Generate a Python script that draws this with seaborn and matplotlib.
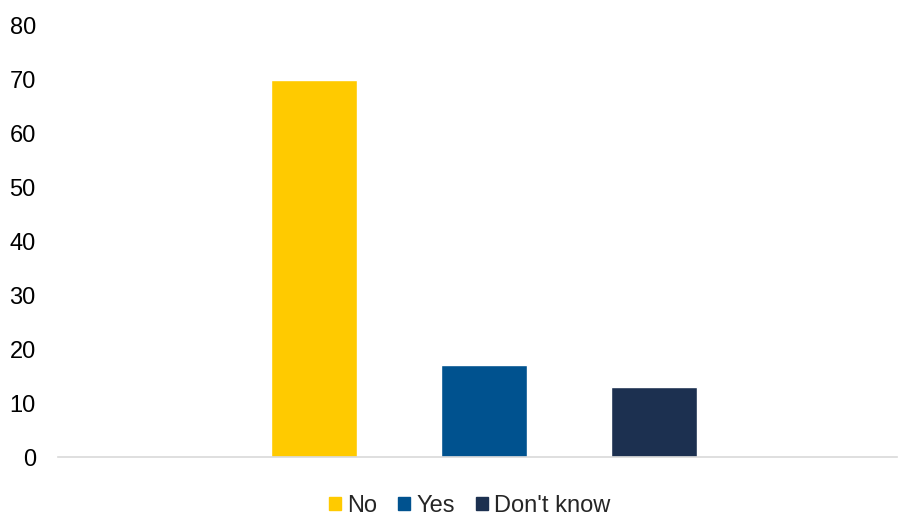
import matplotlib
matplotlib.use("Agg")
import matplotlib.pyplot as plt
import seaborn as sns
import pandas as pd

answers = ["No", "Yes", "Don't know"]
shares = [70, 17, 13]
colors = ["#FFCA00", "#00528F", "#1C3050"]
yticks = [0, 10, 20, 30, 40, 50, 60, 70, 80]

sns.set_theme(style="white")
plt.rcParams["font.family"] = ["Liberation Sans", "DejaVu Sans"]

df = pd.DataFrame({"answer": answers, "share": shares})

fig = plt.figure(figsize=(8.98, 5.18), dpi=100)
ax = fig.add_axes([58 / 898, (518 - 457) / 518, (897 - 58) / 898, (457 - 26) / 518])

sns.barplot(data=df, x="answer", y="share", hue="answer", order=answers,
            hue_order=answers, palette=colors, width=0.506, dodge=False,
            legend=False, ax=ax, saturation=1)

ax.set_xlim(-1.506, 3.43)
ax.set_ylim(0, 80)
ax.set_yticks(yticks)
ax.set_yticklabels([str(t) for t in yticks], fontsize=17, color="#000000")
ax.set_xticks([])
ax.set_xlabel("")
ax.set_ylabel("")
ax.tick_params(axis="y", length=0, pad=16)
for side in ["top", "right", "left"]:
    ax.spines[side].set_visible(False)
ax.spines["bottom"].set_color("#D9D9D9")
ax.spines["bottom"].set_linewidth(1.2)

handles = [plt.Rectangle((0, 0), 1, 1, color=c) for c in colors]
fig.legend(handles, answers, loc="center", bbox_to_anchor=(0.523, (518 - 506) / 518),
           ncol=3, frameon=False, fontsize=17, handlelength=0.5, handleheight=0.5,
           handletextpad=0.25, columnspacing=0.9, borderpad=0.1)

fig.savefig("out.png", dpi=100)
